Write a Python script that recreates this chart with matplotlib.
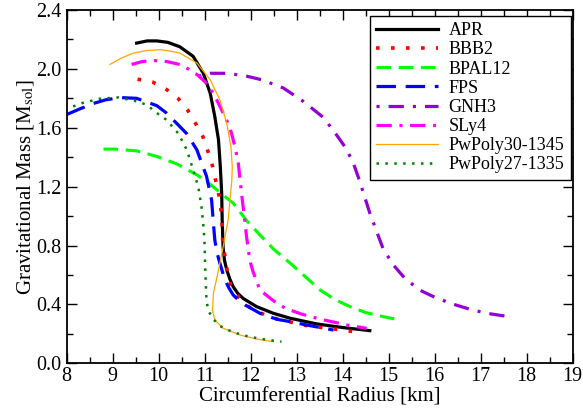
"""Mass-radius curves for several neutron star equations of state."""

import numpy as np
import matplotlib
matplotlib.use("Agg")
import matplotlib.pyplot as plt
from matplotlib.ticker import MultipleLocator, FormatStrFormatter

# values (R in km, M in M_sol)
apr_r = [9.52, 9.75, 9.96, 10.2, 10.46, 10.75, 10.97, 11.12, 11.22, 11.30, 11.34, 11.37,
         11.38, 11.40, 11.43, 11.48, 11.55, 11.62, 11.72, 11.84, 12.13, 12.49, 12.86,
         13.43, 14.0, 14.59]
apr_m = [2.175, 2.19, 2.19, 2.18, 2.15, 2.085, 1.97, 1.835, 1.676, 1.518, 1.336, 1.15,
         0.974, 0.79, 0.70, 0.634, 0.57, 0.52, 0.475, 0.44, 0.385, 0.34, 0.306,
         0.268, 0.243, 0.222]

bbb2_r = [9.54, 9.87, 10.17, 10.42, 10.63, 10.80, 10.96, 11.07, 11.17, 11.24, 11.31, 11.36,
          11.38, 11.39, 11.44, 11.49, 11.57, 11.75, 12.0, 12.30, 12.60, 13.25, 13.90, 14.25]
bbb2_m = [1.93, 1.91, 1.86, 1.80, 1.72, 1.63, 1.54, 1.44, 1.34, 1.24, 1.14, 1.03,
          0.94, 0.838, 0.73, 0.627, 0.528, 0.446, 0.374, 0.33, 0.299, 0.254, 0.23, 0.215]

bpal12_r = [8.80, 9.05, 9.52, 9.96, 10.39, 10.83, 11.04, 11.26, 11.45, 11.62, 11.91, 12.20,
            12.50, 12.86, 13.20, 13.51, 13.85, 14.16, 14.50, 14.88, 15.25]
bpal12_m = [1.455, 1.455, 1.443, 1.405, 1.355, 1.28, 1.235, 1.18, 1.13, 1.088, 0.97, 0.872,
            0.775, 0.68, 0.585, 0.498, 0.43, 0.385, 0.345, 0.317, 0.294]

fps_r = [8.0, 8.3, 8.58, 8.85, 9.16, 9.52, 9.96, 10.17, 10.39, 10.61, 10.83, 11.04, 11.15,
         11.19, 11.22, 11.26, 11.33, 11.44, 11.53, 11.62, 11.75, 11.88, 12.20, 12.57,
         12.86, 13.22, 13.80]
fps_m = [1.69, 1.73, 1.765, 1.79, 1.805, 1.80, 1.75, 1.70, 1.63, 1.56, 1.45, 1.27, 1.11,
         0.95, 0.838, 0.76, 0.68, 0.566, 0.51, 0.464, 0.425, 0.396, 0.34, 0.299,
         0.283, 0.26, 0.226]

gnh3_r = [10.86, 11.12, 11.48, 11.88, 12.24, 12.71, 13.14, 13.58, 13.87, 14.05, 14.22,
          14.36, 14.59, 14.88, 15.10, 15.35, 15.67, 16.02, 16.39, 16.77, 17.13, 17.55]
gnh3_m = [1.95, 1.97, 1.97, 1.953, 1.926, 1.87, 1.78, 1.67, 1.55, 1.47, 1.37,
          1.246, 1.02, 0.777, 0.668, 0.578, 0.498, 0.446, 0.403, 0.367, 0.34, 0.32]

sly4_r = [9.41, 9.65, 9.88, 10.17, 10.46, 10.64, 10.86, 11.08, 11.26, 11.44, 11.55, 11.66,
          11.73, 11.80, 11.86, 11.91, 11.98, 12.05, 12.20, 12.49, 12.75, 13.10, 13.51,
          14.16, 14.52]
sly4_m = [2.03, 2.05, 2.057, 2.05, 2.03, 2.0, 1.955, 1.89, 1.79, 1.676, 1.60, 1.47,
          1.36, 1.156, 1.0, 0.86, 0.70, 0.623, 0.498, 0.426, 0.374, 0.335, 0.30,
          0.256, 0.238]

pp30_r = [8.94, 9.20, 9.45, 9.75, 10.03, 10.27, 10.46, 10.83, 11.12, 11.33, 11.48, 11.57,
          11.60, 11.59, 11.51, 11.40, 11.30, 11.19, 11.17, 11.22, 11.40, 11.77, 12.13, 12.49]
pp30_m = [2.03, 2.075, 2.107, 2.125, 2.13, 2.12, 2.107, 2.04, 1.926, 1.79, 1.63, 1.47,
          1.336, 1.246, 0.974, 0.79, 0.634, 0.476, 0.362, 0.294, 0.238, 0.192, 0.165, 0.147]

pp27_r = [8.14, 8.36, 8.72, 9.12, 9.52, 9.74, 9.96, 10.17, 10.43, 10.61, 10.75, 10.86,
          10.93, 10.98, 11.0, 11.01, 11.04, 11.09, 11.19, 11.33, 11.51, 11.70, 11.90,
          12.09, 12.29, 12.48, 12.67]
pp27_m = [1.745, 1.77, 1.797, 1.806, 1.78, 1.756, 1.70, 1.654, 1.56, 1.45, 1.314, 1.20,
          1.065, 0.906, 0.79, 0.65, 0.419, 0.351, 0.299, 0.254, 0.226, 0.204, 0.186,
          0.174, 0.163, 0.154, 0.147]

labels = ["APR", "BBB2", "BPAL12", "FPS", "GNH3", "SLy4", "PwPoly30-1345", "PwPoly27-1335"]

plt.rcParams["font.family"] = ["Liberation Serif", "DejaVu Serif"]
plt.rcParams["mathtext.fontset"] = "stix"
plt.rcParams["lines.scale_dashes"] = False

fig = plt.figure(figsize=(5.83, 4.11), dpi=100)
ax = fig.add_axes([0.1144, 0.116, 0.8679, 0.8597])

ax.plot(apr_r, apr_m, color="black", lw=2.3, label=labels[0])
ax.plot(bbb2_r, bbb2_m, color="#ff0000", lw=2.6, dashes=(2.6, 8.2),
        dash_capstyle="butt", label=labels[1])
ax.plot(bpal12_r, bpal12_m, color="#00ff00", lw=2.2, dashes=(10.5, 5.5), label=labels[2])
ax.plot(fps_r, fps_m, color="#0000ff", lw=2.3, dashes=(14, 7), label=labels[3])
ax.plot(gnh3_r, gnh3_m, color="#9400d3", lw=2.3, dashes=(2.2, 6.5, 11, 6.5), label=labels[4])
ax.plot(sly4_r, sly4_m, color="#ff00ff", lw=2.3, dashes=(11, 5.5, 2.2, 5.5), label=labels[5])
ax.plot(pp30_r, pp30_m, color="#ffa500", lw=0.9, label=labels[6])
ax.plot(pp27_r, pp27_m, color="#008000", lw=1.8, dashes=(1.8, 4.6),
        dash_capstyle="butt", label=labels[7])

ax.set_xlim(8, 19)
ax.set_ylim(0, 2.4)
ax.xaxis.set_major_locator(MultipleLocator(1))
ax.xaxis.set_minor_locator(MultipleLocator(0.5))
ax.yaxis.set_major_locator(MultipleLocator(0.4))
ax.yaxis.set_minor_locator(MultipleLocator(0.2))
ax.yaxis.set_major_formatter(FormatStrFormatter("%.1f"))
ax.tick_params(which="both", direction="in", top=True, right=True, labelsize=14.5)
ax.tick_params(which="major", length=7, width=1)
ax.tick_params(which="minor", length=4, width=1)
ax.tick_params(axis="x", which="major", pad=3)
ax.tick_params(axis="y", which="major", pad=4)
for sp in ax.spines.values():
    sp.set_linewidth(1.3)

ax.set_xlabel("Circumferential Radius [km]", fontsize=15, labelpad=1)
ax.set_ylabel(r"Gravitational Mass [M$_{\rm sol}$]", fontsize=15, labelpad=0)

leg = ax.legend(loc="upper right", bbox_to_anchor=(0.996, 0.983), borderaxespad=0,
                fontsize=13, handlelength=3.4, labelspacing=0.12, handletextpad=0.6,
                borderpad=0.35, fancybox=False, framealpha=1)
leg.get_frame().set_edgecolor("black")
leg.get_frame().set_linewidth(1.0)

fig.savefig("out.png", dpi=100)
